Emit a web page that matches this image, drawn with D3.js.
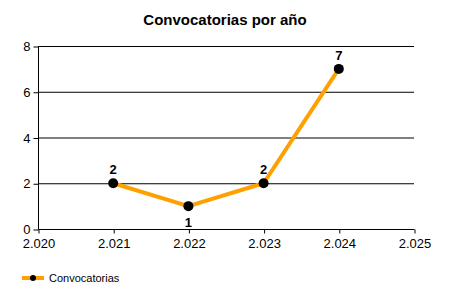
<!DOCTYPE html>
<html>
<head>
<meta charset="utf-8">
<script src="https://cdn.jsdelivr.net/npm/d3@7"></script>
<style>
  body { margin: 0; background: #fff; }
  text { font-family: "Liberation Sans", Arial, sans-serif; }
</style>
</head>
<body>
<div class="chart"></div>
<script>
var years = [2021, 2022, 2023, 2024]
var counts = [2, 1, 2, 7]
var xTicks = [2020, 2021, 2022, 2023, 2024, 2025]
var yTicks = [0, 2, 4, 6, 8]
var seriesName = 'Convocatorias'
var title = 'Convocatorias por año'

var width = 450, height = 300

function lineChart() {
    var esLocale = d3.formatLocale({ decimal: ',', thousands: '.', grouping: [3], currency: ['', '€'] })
    var fmt = esLocale.format(',d')

    var data = years.map(function(y, i) { return { year: y, value: counts[i] } })

    var x = d3.scaleLinear().domain([2020, 2025]).range([38, 414])
    var y = d3.scaleLinear().domain([0, 8]).range([229, 46])

    const svg = d3.select('.chart')
        .append('svg')
        .attr('width', width)
        .attr('height', height)

    // title
    svg.append('text')
        .attr('x', 225)
        .attr('y', 25)
        .attr('text-anchor', 'middle')
        .style('font-size', '15px')
        .style('font-weight', 'bold')
        .text(title)

    // gridlines
    svg.append('g')
        .selectAll('line')
        .data(yTicks.filter(function(d) { return d > 0 }))
        .enter()
        .append('line')
        .attr('x1', 38).attr('x2', 414)
        .attr('y1', function(d) { return y(d) + 0.5 })
        .attr('y2', function(d) { return y(d) + 0.5 })
        .attr('stroke', '#000')

    // y axis
    var yAxis = svg.append('g')
        .attr('transform', 'translate(38.5,0.5)')
        .call(d3.axisLeft(y).tickValues(yTicks).tickSize(5).tickPadding(3))
    yAxis.select('.domain').attr('d', 'M0,' + y(8) + 'V' + y(0))

    // x axis
    var xAxis = svg.append('g')
        .attr('transform', 'translate(0.5,' + (y(0) + 0.5) + ')')
        .call(d3.axisBottom(x).tickValues(xTicks).tickFormat(fmt).tickSize(4).tickPadding(5))
    xAxis.select('.domain').attr('d', 'M38,0H414')

    svg.selectAll('.tick text')
        .style('font-size', '13px')
        .attr('fill', '#000')
    svg.selectAll('.domain, .tick line').attr('stroke', '#000')

    // line
    var line = d3.line()
        .x(function(d) { return x(d.year) })
        .y(function(d) { return y(d.value) })

    svg.append('path')
        .datum(data)
        .attr('d', line)
        .attr('fill', 'none')
        .attr('stroke', '#FFA000')
        .attr('stroke-width', 4)
        .attr('stroke-linejoin', 'round')

    svg.selectAll('circle.pt')
        .data(data)
        .enter()
        .append('circle')
        .attr('class', 'pt')
        .attr('cx', function(d) { return x(d.year) })
        .attr('cy', function(d) { return y(d.value) })
        .attr('r', 5)
        .attr('fill', '#000')

    // value labels (the lowest one sits below the point)
    svg.selectAll('text.val')
        .data(data)
        .enter()
        .append('text')
        .attr('class', 'val')
        .attr('x', function(d) { return x(d.year) })
        .attr('y', function(d, i) {
            var below = d.value < counts[Math.max(i - 1, 0)] && d.value < counts[Math.min(i + 1, counts.length - 1)]
            return below ? y(d.value) + 21 : y(d.value) - 9
        })
        .attr('text-anchor', 'middle')
        .style('font-size', '13px')
        .style('font-weight', 'bold')
        .text(function(d) { return d.value })

    // legend
    var legend = svg.append('g').attr('transform', 'translate(22,278)')
    legend.append('line')
        .attr('x1', 0).attr('x2', 22)
        .attr('stroke', '#FFA000')
        .attr('stroke-width', 4)
    legend.append('circle')
        .attr('cx', 11).attr('r', 3)
        .attr('fill', '#000')
    legend.append('text')
        .attr('x', 27)
        .attr('y', 4)
        .style('font-size', '11px')
        .text(seriesName)
}
lineChart();
</script>
</body>
</html>
